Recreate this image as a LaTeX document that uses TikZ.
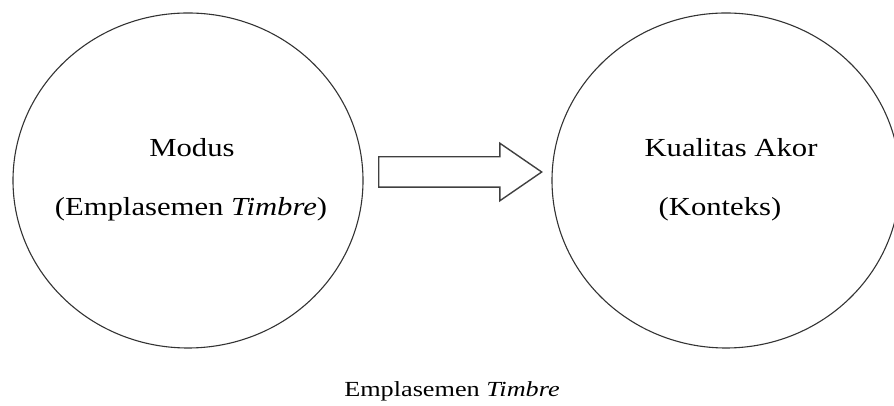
\documentclass[tikz,border=0pt]{standalone}
\usepackage{fontspec}
\setmainfont{Liberation Serif}
\newfontfamily\wideserif[FakeStretch=1.18]{Liberation Serif}
\newfontfamily\capserif[FakeStretch=1.22]{Liberation Serif}
\usetikzlibrary{shapes.geometric, shapes.arrows}

\begin{document}
\begin{tikzpicture}[x=1pt, y=1pt,
    bubble/.style={draw=black!80, line width=1.1pt, ellipse, inner sep=0pt,
        minimum width=350pt, minimum height=335pt},
    innertext/.style={font=\wideserif\fontsize{26}{30}\selectfont, inner sep=0pt, anchor=base},
    blockarrow/.style={draw=black!75, line width=1.4pt, single arrow, inner xsep=0pt,
        inner ysep=14.5pt, single arrow head extend=13.5pt, single arrow tip angle=69,
        minimum height=163pt, anchor=tail}]

    \useasboundingbox (0,0) rectangle (894,406);

    % the two bubbles
    \node[bubble] (modus) at (188, 225.5) {};
    \node[bubble, minimum width=348pt] (kualitas) at (726, 225.5) {};

    \node[blockarrow] (push) at (378, 234) {};

    % texts inside
    \node[innertext] (modusname) at (192, 249) {Modus};
    \node[innertext] (modusnote) at (191, 190) {(Emplasemen \textit{Timbre})};
    \node[innertext] (kualitasname) at (731, 249) {Kualitas Akor};
    \node[innertext] (kualitasnote) at (720, 190) {(Konteks)};

    % caption
    \node[font=\capserif\fontsize{21.5}{26}\selectfont, inner sep=0pt, anchor=base] (caption)
        at (452, 9) {Emplasemen \textit{Timbre}};
\end{tikzpicture}
\end{document}
